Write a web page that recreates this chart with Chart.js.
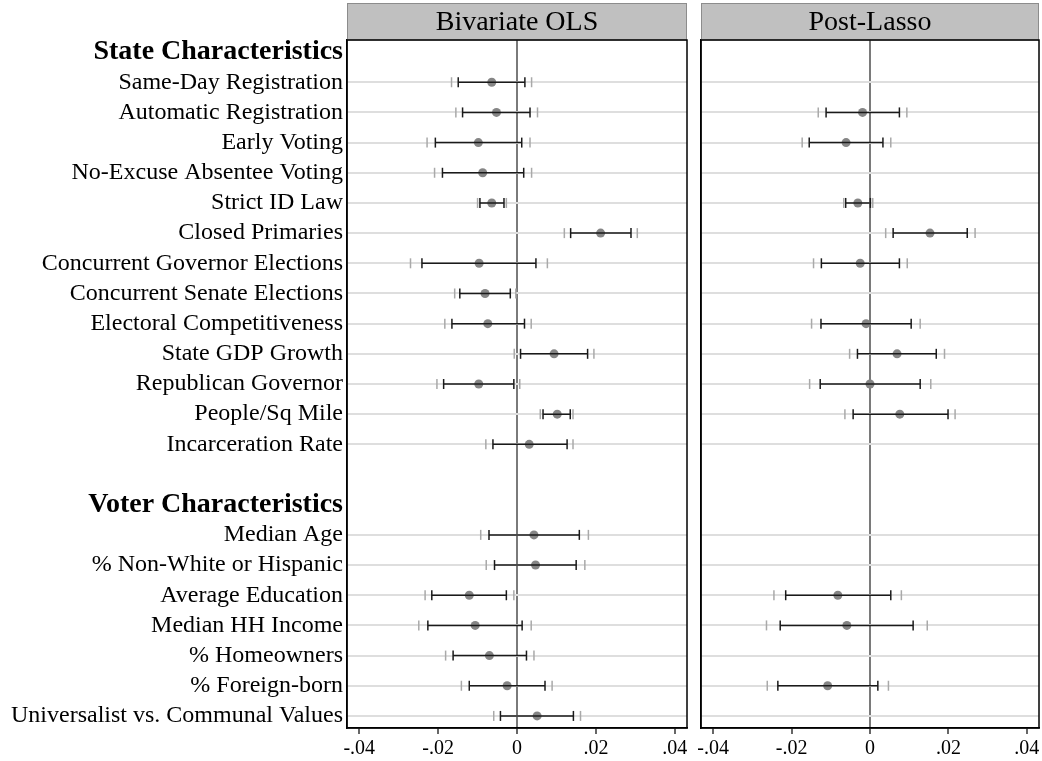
<!DOCTYPE html>
<html>
<head>
<meta charset="utf-8">
<script src="https://cdn.jsdelivr.net/npm/chart.js@4.4.1/dist/chart.umd.min.js"></script>
<style>
  html, body { margin: 0; padding: 0; background: #ffffff; }
  #wrap { position: relative; width: 1042px; height: 761px; overflow: hidden; background: #fff; }
  canvas { position: absolute; top: 0; }
  #cA { left: 0; }
  #cB { left: 690px; }
</style>
</head>
<body>
<div id="wrap">
  <canvas id="cA" width="690" height="761"></canvas>
  <canvas id="cB" width="352" height="761"></canvas>
</div>
<script>
// ---------------- DATA ----------------
const panelTitles = ['Bivariate OLS', 'Post-Lasso'];
const groupHeaders = ['State Characteristics', 'Voter Characteristics'];
const stateVars = ['Same-Day Registration', 'Automatic Registration', 'Early Voting',
  'No-Excuse Absentee Voting', 'Strict ID Law', 'Closed Primaries',
  'Concurrent Governor Elections', 'Concurrent Senate Elections',
  'Electoral Competitiveness', 'State GDP Growth', 'Republican Governor',
  'People/Sq Mile', 'Incarceration Rate'];
const voterVars = ['Median Age', '% Non-White or Hispanic', 'Average Education',
  'Median HH Income', '% Homeowners', '% Foreign-born', 'Universalist vs. Communal Values'];
const xTickValues = [-0.04, -0.02, 0, 0.02, 0.04];

// Bivariate OLS (state vars then voter vars)
const olsCoef = [-0.0064, -0.0052, -0.0098, -0.0087, -0.0064, 0.0212, -0.0096, -0.0081, -0.0074, 0.0094, -0.0097, 0.0102, 0.0031,
                 0.0043, 0.0047, -0.0121, -0.0106, -0.0070, -0.0025, 0.0051];
const olsLo90 = [-0.0149, -0.0138, -0.0207, -0.0189, -0.0094, 0.0136, -0.0241, -0.0145, -0.0165, 0.0009, -0.0186, 0.0066, -0.0061,
                 -0.0071, -0.0057, -0.0216, -0.0226, -0.0162, -0.0121, -0.0042];
const olsHi90 = [0.0020, 0.0033, 0.0012, 0.0017, -0.0033, 0.0289, 0.0048, -0.0017, 0.0019, 0.0179, -0.0008, 0.0135, 0.0127,
                 0.0158, 0.0150, -0.0027, 0.0013, 0.0024, 0.0071, 0.0143];
const olsLo95 = [-0.0166, -0.0155, -0.0228, -0.0209, -0.0100, 0.0120, -0.0270, -0.0158, -0.0183, -0.0007, -0.0203, 0.0059, -0.0079,
                 -0.0092, -0.0078, -0.0233, -0.0249, -0.0181, -0.0141, -0.0059];
const olsHi95 = [0.0037, 0.0052, 0.0033, 0.0037, -0.0027, 0.0305, 0.0077, -0.0003, 0.0036, 0.0195, 0.0007, 0.0142, 0.0142,
                 0.0181, 0.0172, -0.0008, 0.0036, 0.0043, 0.0089, 0.0161];

// Post-Lasso (null = not selected)
const lassoCoef = [null, -0.0019, -0.0061, null, -0.0031, 0.0153, -0.0025, null, -0.0010, 0.0069, 0.0000, 0.0076, null,
                   null, null, -0.0082, -0.0059, null, -0.0108, null];
const lassoLo90 = [null, -0.0112, -0.0155, null, -0.0062, 0.0059, -0.0124, null, -0.0125, -0.0032, -0.0127, -0.0043, null,
                   null, null, -0.0215, -0.0229, null, -0.0235, null];
const lassoHi90 = [null, 0.0075, 0.0033, null, 0.0001, 0.0248, 0.0075, null, 0.0105, 0.0169, 0.0128, 0.0199, null,
                   null, null, 0.0053, 0.0110, null, 0.0020, null];
const lassoLo95 = [null, -0.0132, -0.0173, null, -0.0067, 0.0040, -0.0144, null, -0.0149, -0.0052, -0.0154, -0.0064, null,
                   null, null, -0.0245, -0.0264, null, -0.0262, null];
const lassoHi95 = [null, 0.0094, 0.0053, null, 0.0007, 0.0268, 0.0095, null, 0.0128, 0.0190, 0.0155, 0.0217, null,
                   null, null, 0.0080, 0.0146, null, 0.0047, null];

// ---------------- LAYOUT OF ROWS ----------------
const rowLabels = [groupHeaders[0], ...stateVars, '', groupHeaders[1], ...voterVars];
const headerRows = [0, stateVars.length + 2];
const itemRows = [...stateVars.map((_, i) => i + 1), ...voterVars.map((_, j) => stateVars.length + 3 + j)];

const FONT = '"Liberation Serif", "Times New Roman", Times, serif';

function buildDatasets(coef, lo90, hi90, lo95, hi95) {
  const caps95 = [], ci90 = [], pts = [];
  coef.forEach((c, i) => {
    if (c === null) return;
    const r = itemRows[i];
    caps95.push({x: lo95[i], y: r}, {x: hi95[i], y: r});
    ci90.push({x: lo90[i], y: r}, {x: hi90[i], y: r}, {x: null, y: null});
    pts.push({x: c, y: r});
  });
  return [
    { data: caps95, showLine: false, pointStyle: 'line', rotation: 90, pointRadius: 5,
      pointBorderColor: '#a9a9a9', pointBorderWidth: 1.5, borderColor: '#a9a9a9' },
    { data: ci90, showLine: true, spanGaps: false, borderColor: '#1a1a1a', borderWidth: 1.5,
      pointStyle: 'line', rotation: 90, pointRadius: 5, pointBorderColor: '#1a1a1a', pointBorderWidth: 1.5 },
    { data: pts, showLine: false, pointStyle: 'circle', pointRadius: 4.5,
      pointBackgroundColor: '#858585', pointBorderWidth: 0, borderColor: '#858585' }
  ];
}

const panelDecor = {
  id: 'panelDecor',
  afterDraw(chart, args, opts) {
    const {ctx, chartArea: a} = chart;
    ctx.save();
    // header strip
    ctx.fillStyle = '#c0c0c0';
    ctx.fillRect(a.left, 3, a.right - a.left, a.top - 3);
    ctx.strokeStyle = '#8c8c8c';
    ctx.lineWidth = 1;
    ctx.strokeRect(a.left + 0.5, 3.5, a.right - a.left - 1, a.top - 3.5);
    ctx.fillStyle = '#000';
    ctx.font = '28px ' + FONT;
    ctx.textAlign = 'center';
    ctx.textBaseline = 'middle';
    ctx.fillText(opts.title, (a.left + a.right) / 2, (3 + a.top) / 2 + 1);
    // plot frame
    ctx.strokeStyle = '#000';
    ctx.lineWidth = 1.5;
    ctx.strokeRect(a.left, a.top, a.right - a.left, a.bottom - a.top);
    ctx.restore();
  }
};

function makeChart(canvasId, title, datasets, showLabels) {
  return new Chart(document.getElementById(canvasId), {
    type: 'scatter',
    data: { datasets },
    plugins: [panelDecor],
    options: {
      responsive: false,
      animation: false,
      events: [],
      layout: { autoPadding: false, padding: { top: 40, right: 3, left: 0, bottom: 0 } },
      plugins: { legend: { display: false }, tooltip: { enabled: false }, panelDecor: { title } },
      scales: {
        x: {
          type: 'linear', position: 'bottom', min: -0.0431, max: 0.0431,
          afterBuildTicks: s => { s.ticks = xTickValues.map(v => ({ value: v })); },
          afterFit: s => { s.height = 33; s.paddingLeft = 0; s.paddingRight = 0; },
          ticks: {
            autoSkip: false, maxRotation: 0, color: '#000', padding: 3,
            font: { family: FONT, size: 20 },
            callback: v => v === 0 ? '0' : (v < 0 ? '-' : '') + String(Math.abs(v)).replace(/^0/, '')
          },
          grid: {
            drawOnChartArea: true, drawTicks: true, tickLength: 6, tickColor: '#000', tickWidth: 1.2,
            color: c => (c.tick && c.tick.value === 0) ? '#7a7a7a' : 'rgba(0,0,0,0)',
            lineWidth: 2
          },
          border: { display: true, color: '#000', width: 1.5 }
        },
        y: {
          type: 'linear', position: 'left', reverse: true, min: -0.4, max: rowLabels.length - 1 + 0.4,
          afterBuildTicks: s => { s.ticks = rowLabels.map((_, i) => ({ value: i })); },
          afterFit: s => { s.width = showLabels ? 347 : 11; s.paddingTop = 0; s.paddingBottom = 0; },
          ticks: {
            display: showLabels, autoSkip: false, color: '#000', padding: 4,
            font: c => headerRows.includes(c.index)
              ? { family: FONT, size: 28, weight: 'bold' }
              : { family: FONT, size: 24 },
            callback: v => rowLabels[v]
          },
          grid: {
            drawTicks: false, lineWidth: 2,
            color: c => (c.tick && itemRows.includes(c.tick.value)) ? '#dedede' : 'rgba(0,0,0,0)'
          },
          border: { display: true, color: '#000', width: 1.5 }
        }
      }
    }
  });
}

makeChart('cA', panelTitles[0], buildDatasets(olsCoef, olsLo90, olsHi90, olsLo95, olsHi95), true);
makeChart('cB', panelTitles[1], buildDatasets(lassoCoef, lassoLo90, lassoHi90, lassoLo95, lassoHi95), false);
</script>
</body>
</html>
